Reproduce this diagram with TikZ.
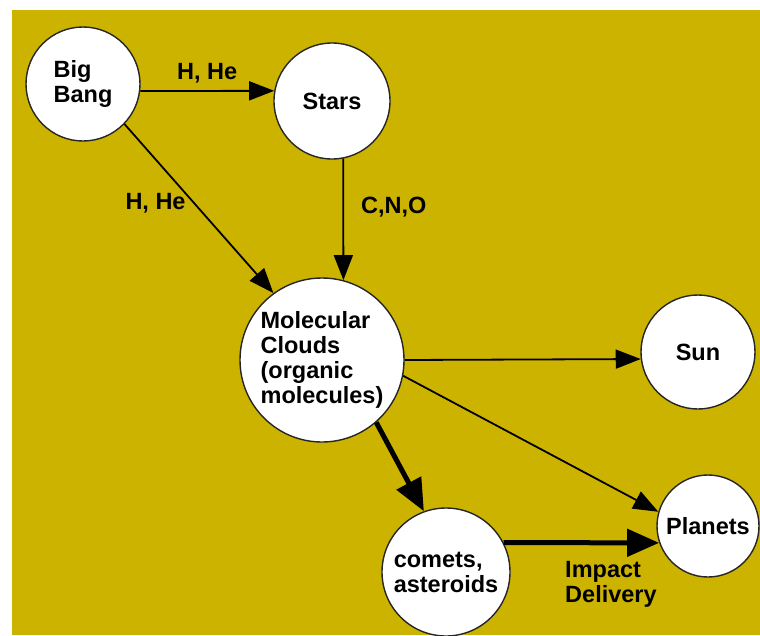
\documentclass[tikz,border=0pt]{standalone}
\usepackage{fontspec}
\setmainfont{Liberation Sans}
\usetikzlibrary{arrows.meta}
\definecolor{gold}{RGB}{204,179,0}
\tikzset{
  blob/.style={circle, draw=black!85, line width=1.4pt, fill=white,
    inner sep=0pt, align=left, font=\bfseries\fontsize{23.5}{25}\selectfont},
  flow/.style={line width=1.8pt, -{Triangle[length=25pt,width=19pt]}},
  heavy/.style={line width=5pt, -{Triangle[length=32pt,width=27pt]}},
  tag/.style={font=\bfseries\fontsize{23.5}{25}\selectfont, inner sep=0pt, align=left},
}

\begin{document}
\begin{tikzpicture}[x=1pt,y=-1pt]
    % background
    \useasboundingbox (0,0) rectangle (760,635);
    \fill[gold] (12,10) rectangle (760,635);
    % vertices
    \node[blob, minimum size=114pt] (bb) at (83,84) {Big\\Bang};
    \node[blob, minimum size=116pt] (st) at (332,101) {Stars};
    \node[blob, minimum size=164pt] (mc) at (322,360) {Molecular\\Clouds\\(organic\\molecules)};
    \node[blob, minimum size=114pt] (sun) at (698,352) {Sun};
    \node[blob, minimum size=102pt] (pl) at (708,526) {Planets};
    \node[blob, minimum size=128pt] (ca) at (446,572) {comets,\\asteroids};
    % diagram
    \draw[flow] (bb.-7) -- node[tag, above=7pt] {H, He} (st.170);
    \draw[flow] (bb.-44) -- node[tag, left=8pt, pos=0.47] {H, He} (mc.126);
    \draw[flow] (st.-79) -- node[tag, right=17pt, pos=0.4] {C,N,O} (mc.75);
    \draw[flow] (mc.0) -- (sun.187);
    \draw[flow] (mc.-11) -- (pl.164);
    \draw[heavy] (mc.-49) -- (ca.110);
    \draw[heavy] (ca.27) -- node[tag, pos=0.38, anchor=north west, yshift=-16pt] {Impact\\Delivery} (pl.199);
\end{tikzpicture}
\end{document}
